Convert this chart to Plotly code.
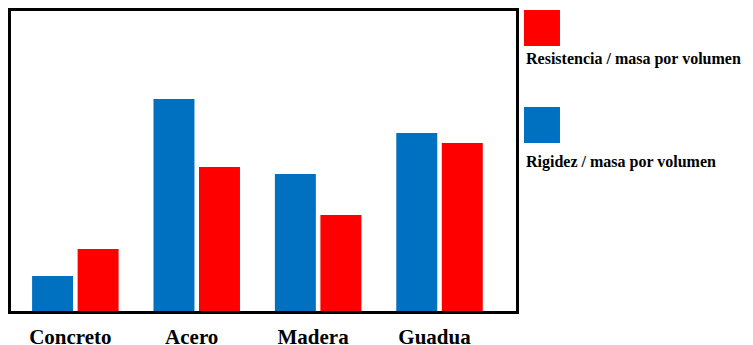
import plotly.graph_objects as go

# data (no axis scale shown, arbitrary units)
materiales = ["Concreto", "Acero", "Madera", "Guadua"]
rigidez = [35, 212, 137, 178]        # Rigidez / masa por volumen (blue)
resistencia = [62, 144, 96, 168]     # Resistencia / masa por volumen (red)

AZUL = "#0070C0"
ROJO = "#FF0000"
FONT = "Liberation Serif"

fig = go.Figure()
fig.add_trace(go.Bar(x=materiales, y=rigidez, marker_color=AZUL,
                     marker_line_width=0, name="Rigidez / masa por volumen"))
fig.add_trace(go.Bar(x=materiales, y=resistencia, marker_color=ROJO,
                     marker_line_width=0, name="Resistencia / masa por volumen"))

# custom legend: swatch above the text
leyenda = [
    (ROJO, "Resistencia / masa por volumen", 0.883, 1.003, 0.84),
    (AZUL, "Rigidez / masa por volumen", 0.56, 0.68, 0.497),
]
for color, texto, y0, y1, ytxt in leyenda:
    fig.add_shape(type="rect", xref="paper", yref="paper",
                  x0=1.0158, x1=1.0871, y0=y0, y1=y1,
                  fillcolor=color, line_width=0)
    fig.add_annotation(text="<b>" + texto + "</b>", xref="paper", yref="paper",
                       x=1.0158, y=ytxt, xanchor="left", yanchor="middle",
                       showarrow=False, font=dict(family=FONT, size=16, color="black"))

# page body has an 8px margin, so the figure is 8px smaller and left/top margins shifted
fig.update_layout(
    width=745, height=337,
    margin=dict(l=3, r=237, t=3, b=34),
    barmode="group", bargap=0.25, bargroupgap=0.1,
    showlegend=False,
    plot_bgcolor="white", paper_bgcolor="white",
    font=dict(family=FONT, color="black"),
)
fig.update_xaxes(range=[-0.53, 3.63], showline=True, mirror=True, linecolor="black",
                 linewidth=3, ticks="", showgrid=False, ticklabelstandoff=5,
                 ticklabelshift=-5, automargin=False,
                 tickfont=dict(family=FONT, size=21, color="black", weight="bold"))
fig.update_yaxes(range=[0, 300], showline=True, mirror=True, linecolor="black",
                 linewidth=3, showticklabels=False, ticks="", showgrid=False,
                 zeroline=False, automargin=False)

fig.write_html("out.html")
